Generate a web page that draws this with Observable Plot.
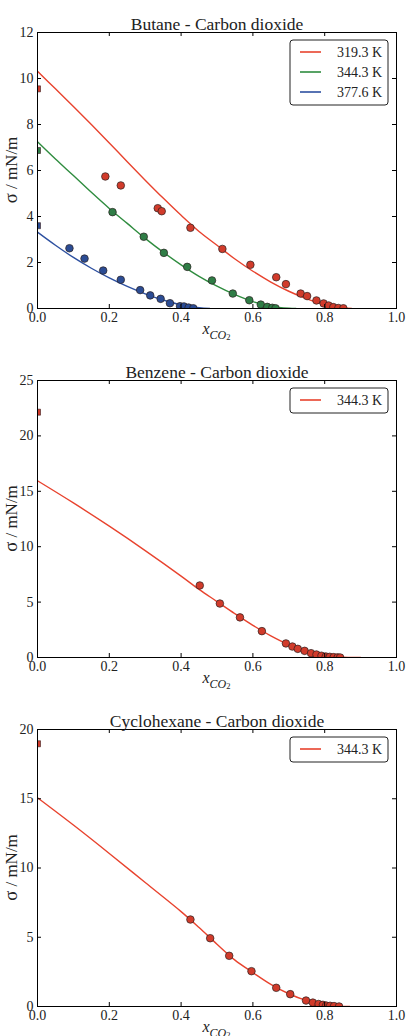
<!DOCTYPE html>
<html><head><meta charset="utf-8">
<script src="https://cdn.jsdelivr.net/npm/d3@7"></script>
<script src="https://cdn.jsdelivr.net/npm/@observablehq/plot@0.6"></script>
<style>
body{margin:0;background:#fff;}
#charts{width:408px;}
#charts svg{display:block;}
#charts svg, #charts svg text{font-family:"Liberation Serif","Times New Roman","DejaVu Serif",serif !important;}
</style></head><body><div id="charts"></div>
<script>
// ---------- data ----------
const xTicks = [0, 0.2, 0.4, 0.6, 0.8, 1.0];

// Butane - CO2
const butaneTicksY = [0, 2, 4, 6, 8, 10, 12];
const butaneLabels = ["319.3 K", "344.3 K", "377.6 K"];
const b319CurveX = [0,0.05,0.1,0.15,0.2,0.25,0.3,0.35,0.4,0.45,0.5,0.55,0.6,0.65,0.7,0.75,0.8,0.85,0.875];
const b319CurveY = [10.32,9.55,8.78,8.0,7.2,6.38,5.58,4.8,4.05,3.35,2.75,2.15,1.62,1.15,0.75,0.42,0.17,0.03,0];
const b319PureX = [0];
const b319PureY = [9.55];
const b319PtsX = [0.189,0.232,0.335,0.346,0.426,0.515,0.593,0.665,0.692,0.733,0.751,0.777,0.797,0.811,0.824,0.838,0.852];
const b319PtsY = [5.74,5.35,4.36,4.23,3.51,2.59,1.90,1.36,1.06,0.65,0.54,0.35,0.22,0.13,0.06,0.02,0.01];

const b344CurveX = [0,0.05,0.1,0.15,0.2,0.25,0.3,0.35,0.4,0.45,0.5,0.55,0.6,0.65,0.7,0.72];
const b344CurveY = [7.25,6.5,5.78,5.05,4.35,3.7,3.05,2.45,1.9,1.4,0.97,0.6,0.3,0.1,0.01,0];
const b344PureX = [0];
const b344PureY = [6.87];
const b344PtsX = [0.209,0.296,0.352,0.417,0.486,0.544,0.590,0.622,0.640,0.654,0.663];
const b344PtsY = [4.19,3.12,2.42,1.81,1.22,0.65,0.36,0.17,0.07,0.03,0.01];

const b377CurveX = [0,0.05,0.1,0.15,0.2,0.25,0.3,0.35,0.4,0.45,0.48];
const b377CurveY = [3.32,2.75,2.22,1.75,1.33,0.96,0.64,0.37,0.16,0.04,0];
const b377PureX = [0];
const b377PureY = [3.6];
const b377PtsX = [0.089,0.131,0.183,0.232,0.286,0.314,0.343,0.369,0.397,0.408,0.421,0.434];
const b377PtsY = [2.62,2.17,1.65,1.25,0.80,0.57,0.42,0.23,0.10,0.09,0.04,0.01];

// Benzene - CO2
const benzeneTicksY = [0, 5, 10, 15, 20, 25];
const benzeneLabels = ["344.3 K"];
const bzCurveX = [0,0.1,0.2,0.3,0.4,0.45,0.5,0.55,0.6,0.65,0.7,0.75,0.8,0.85,0.9];
const bzCurveY = [15.95,13.95,11.85,9.65,7.35,6.15,5.05,3.95,2.9,1.95,1.15,0.55,0.17,0.02,0];
const bzPureX = [0];
const bzPureY = [22.14];
const bzPtsX = [0.452,0.508,0.564,0.625,0.692,0.710,0.725,0.744,0.762,0.777,0.791,0.803,0.814,0.825,0.836,0.843];
const bzPtsY = [6.5,4.87,3.62,2.38,1.27,0.99,0.78,0.6,0.39,0.27,0.16,0.09,0.06,0.03,0.01,0.0];

// Cyclohexane - CO2
const cycloTicksY = [0, 5, 10, 15, 20];
const cycloLabels = ["344.3 K"];
const cyCurveX = [0,0.1,0.2,0.3,0.4,0.45,0.5,0.55,0.6,0.65,0.7,0.75,0.8,0.85,0.87];
const cyCurveY = [15.07,13.1,11.05,8.95,6.85,5.7,4.5,3.35,2.45,1.6,0.92,0.42,0.12,0.01,0];
const cyPureX = [0];
const cyPureY = [18.97];
const cyPtsX = [0.426,0.481,0.534,0.596,0.665,0.704,0.748,0.767,0.783,0.795,0.804,0.815,0.826,0.840];
const cyPtsY = [6.28,4.93,3.66,2.55,1.35,0.89,0.43,0.28,0.18,0.12,0.07,0.05,0.03,0.0];

// ---------- styles ----------
const RED = {line: "#e8432e", dot: "#d13b2b"};
const GREEN = {line: "#2f8c3f", dot: "#2f7d46"};
const BLUE = {line: "#2d50a0", dot: "#2b4c94"};
const FONT = "Liberation Serif, Times New Roman, DejaVu Serif, serif";
const INK = "#222";

const zip = (xs, ys) => xs.map((x, i) => ({x, y: ys[i]}));

function chart(cfg) {
  const W = 408, ml = 37, mr = 12, mt = 32;
  const {height, mb} = cfg;
  const pw = W - ml - mr, ph = height - mt - mb;
  const marks = [];
  for (const s of cfg.series) {
    marks.push(Plot.line(zip(s.curveX, s.curveY), {x: "x", y: "y", stroke: s.color.line, strokeWidth: 1.4, curve: "catmull-rom", clip: true}));
  }
  for (const s of cfg.series) {
    marks.push(Plot.dot(zip(s.pureX, s.pureY), {x: "x", y: "y", symbol: "square", r: 3.4, fill: s.color.dot, stroke: "#3a2020", strokeWidth: 0.6, clip: true}));
    marks.push(Plot.dot(zip(s.ptsX, s.ptsY), {x: "x", y: "y", r: 3.8, fill: s.color.dot, stroke: "#2a2020", strokeWidth: 0.7, clip: true}));
  }
  // inward tick marks on all four sides
  marks.push(Plot.tickX(xTicks, {x: d => d, insetTop: ph - 4, stroke: "#000"}));
  marks.push(Plot.tickX(xTicks, {x: d => d, insetBottom: ph - 4, stroke: "#000"}));
  marks.push(Plot.tickY(cfg.yTicks, {y: d => d, insetRight: pw - 4, stroke: "#000"}));
  marks.push(Plot.tickY(cfg.yTicks, {y: d => d, insetLeft: pw - 4, stroke: "#000"}));
  marks.push(Plot.frame({stroke: "#000", strokeWidth: 1}));
  marks.push(Plot.axisX({ticks: xTicks, tickSize: 0, tickPadding: 4, tickFormat: d3.format(".1f"), label: null, fill: INK, fontFamily: FONT}));
  marks.push(Plot.axisY({ticks: cfg.yTicks, tickSize: 0, tickPadding: 4, tickFormat: d => String(d), label: null, fill: INK, fontFamily: FONT}));
  // title
  marks.push(Plot.text([cfg.title], {frameAnchor: "top", text: d => d, lineAnchor: "bottom", dy: -3, fontSize: 17.5, fill: INK, fontFamily: FONT}));

  const svg = Plot.plot({
    width: W, height, marginLeft: ml, marginRight: mr, marginTop: mt, marginBottom: mb,
    x: {domain: [0, 1], label: null},
    y: {domain: cfg.yDomain, label: null},
    style: {fontFamily: FONT, fontSize: "14px", background: "#fff", color: INK, overflow: "visible"},
    marks
  });

  const sel = d3.select(svg);
  // y label: σ / mN/m
  const yl = sel.append("text")
    .attr("transform", `translate(17,${mt + ph / 2}) rotate(-90)`)
    .attr("text-anchor", "middle").attr("font-family", FONT).attr("fill", INK);
  yl.append("tspan").attr("font-size", 18.5).text("σ");
  yl.append("tspan").attr("font-size", 17).text(" / mN/m");

  // x label: x_{CO2}
  const xl = sel.append("text")
    .attr("x", ml + pw / 2).attr("y", mt + ph + 26)
    .attr("text-anchor", "middle")
    .attr("font-family", FONT).attr("fill", INK);
  xl.append("tspan").attr("font-size", 16).attr("font-style", "italic").text("x");
  xl.append("tspan").attr("font-size", 12).attr("font-style", "italic").attr("dy", 4.5).text("CO");
  xl.append("tspan").attr("font-size", 8.5).attr("dy", 1.5).text("2");

  // legend box
  const n = cfg.series.length;
  const bw = 98, bh = 20 * n + 5;
  const bx = ml + pw - 8 - bw, by = mt + 8;
  const lg = sel.append("g").attr("text-anchor", "start");
  lg.append("rect").attr("x", bx).attr("y", by).attr("width", bw).attr("height", bh)
    .attr("rx", 3).attr("fill", "#fff").attr("stroke", "#222").attr("stroke-width", 1);
  cfg.series.forEach((s, i) => {
    const ly = by + 12 + 20 * i;
    lg.append("line").attr("x1", bx + 10).attr("x2", bx + 31).attr("y1", ly).attr("y2", ly)
      .attr("stroke", s.color.line).attr("stroke-width", 1.6);
    lg.append("text").attr("x", bx + 47).attr("y", ly + 5).attr("text-anchor", "start")
      .attr("font-family", FONT).attr("font-size", 14).attr("fill", INK).text(cfg.labels[i]);
  });
  return svg;
}

const root = document.getElementById("charts");
root.append(chart({
  title: "Butane - Carbon dioxide", height: 348, mb: 40, yDomain: [0, 12], yTicks: butaneTicksY, labels: butaneLabels,
  series: [
    {color: RED, curveX: b319CurveX, curveY: b319CurveY, pureX: b319PureX, pureY: b319PureY, ptsX: b319PtsX, ptsY: b319PtsY},
    {color: GREEN, curveX: b344CurveX, curveY: b344CurveY, pureX: b344PureX, pureY: b344PureY, ptsX: b344PtsX, ptsY: b344PtsY},
    {color: BLUE, curveX: b377CurveX, curveY: b377CurveY, pureX: b377PureX, pureY: b377PureY, ptsX: b377PtsX, ptsY: b377PtsY}
  ]
}));
root.append(chart({
  title: "Benzene - Carbon dioxide", height: 349, mb: 40, yDomain: [0, 25], yTicks: benzeneTicksY, labels: benzeneLabels,
  series: [
    {color: RED, curveX: bzCurveX, curveY: bzCurveY, pureX: bzPureX, pureY: bzPureY, ptsX: bzPtsX, ptsY: bzPtsY}
  ]
}));
root.append(chart({
  title: "Cyclohexane - Carbon dioxide", height: 339, mb: 30, yDomain: [0, 20], yTicks: cycloTicksY, labels: cycloLabels,
  series: [
    {color: RED, curveX: cyCurveX, curveY: cyCurveY, pureX: cyPureX, pureY: cyPureY, ptsX: cyPtsX, ptsY: cyPtsY}
  ]
}));
</script>
</body></html>
